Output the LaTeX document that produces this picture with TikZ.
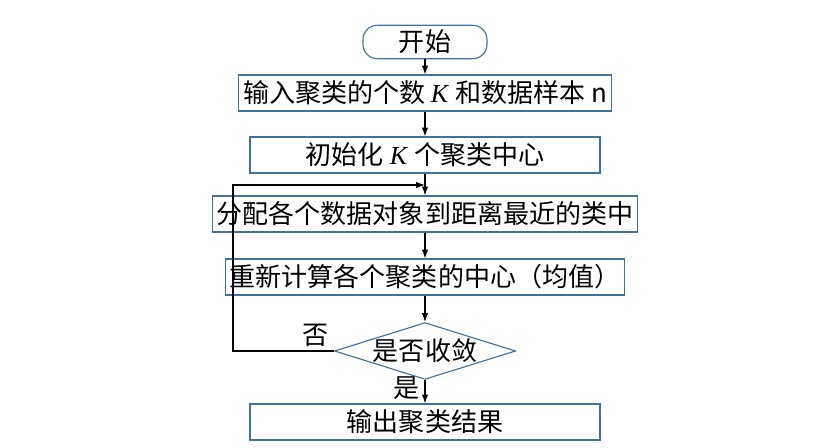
\documentclass[tikz,border=0pt]{standalone}
\usepackage{fontspec}
\setmainfont{Noto Sans CJK SC}
\usetikzlibrary{shapes.geometric,arrows.meta}
\definecolor{boxline}{RGB}{65,113,156}
\newcommand{\chartfont}{\fontsize{18.5}{22}\selectfont}
\tikzset{%
  procbox/.style = {shape=rectangle, draw=boxline, line width=0.8pt,%
                  minimum width=8.75cm, minimum height=0.9cm, font=\chartfont},%
  termbox/.style = {shape=rectangle, rounded corners=0.36cm, draw=boxline,%
                  line width=0.8pt, minimum width=3.1cm, minimum height=0.72cm, font=\chartfont},%
  check/.style = {shape=diamond, aspect=3.2, draw=boxline, line width=0.8pt,%
                  minimum width=4.5cm, minimum height=1.42cm, inner sep=0pt, font=\chartfont},%
  flow/.style  = {-{Latex[length=2.2mm,width=1.6mm]}, line width=0.8pt}%
}
\newcommand{\vK}{\textit{\fontspec{Liberation Serif}K}}
\begin{document}
\begin{tikzpicture}[x=0.025cm,y=-0.025cm]
		\useasboundingbox (0,0) rectangle (814,447);
		\node[termbox] (begin) at (425,42) {开始};
		\node[procbox] (input) at (425,93) {输入聚类的个数 \vK{} 和数据样本 n};
		\node[procbox] (init) at (425,155) {初始化 \vK{} 个聚类中心};
		\node[procbox] (assign) at (425,214) {分配各个数据对象到距离最近的类中};
		\node[procbox] (update) at (425,277) {重新计算各个聚类的中心（均值）};
		\node[check] (conv) at (425,351) {是否收敛};
		\node[procbox] (output) at (425,422) {输出聚类结果};
		\node[font=\chartfont] (no) at (316,335) {否};
		\coordinate (loop) at (425,185);
		\draw[flow] (begin) -- (input);
		\draw[flow] (input) -- (init);
		\draw[flow] (init) -- (assign);
		\draw[flow] (assign) -- (update);
		\draw[flow] (update) -- (conv);
		\draw[flow] (conv) -- node[left, pos=0.35, font=\chartfont] {是} (output);
		\draw[flow] (conv.west) -- (233,351) |- (loop);
\end{tikzpicture}
\end{document}
